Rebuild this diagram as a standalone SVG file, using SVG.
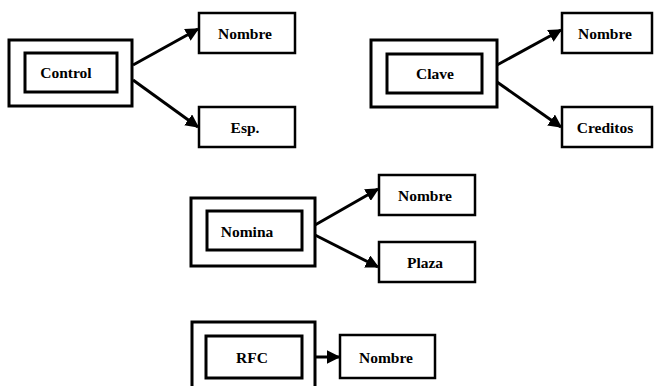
<svg xmlns="http://www.w3.org/2000/svg" width="655" height="386" viewBox="0 0 655 386">
<style>
.outer{fill:#fff;stroke:#000;stroke-width:3}
.inner{fill:#fff;stroke:#000;stroke-width:3}
.box{fill:#fff;stroke:#000;stroke-width:2.5}
.t{font-family:"Liberation Serif",serif;font-weight:bold;font-size:15.5px;text-anchor:middle;dominant-baseline:central;fill:#000}
.c{stroke:#000;stroke-width:3;fill:none;marker-end:url(#ah)}
</style>
<defs>
<marker id="ah" viewBox="0 0 10 10" refX="9" refY="5" markerWidth="4.5" markerHeight="4.5" orient="auto" markerUnits="strokeWidth">
<path d="M0,0 L10,5 L0,10 z" fill="#000"/>
</marker>
</defs>
<rect width="655" height="386" fill="#fff"/>
<g id="connectors">
<line class="c" x1="133" y1="65" x2="198" y2="29"/>
<line class="c" x1="133" y1="80" x2="198" y2="127"/>
<line class="c" x1="497" y1="65" x2="561" y2="30"/>
<line class="c" x1="497" y1="82" x2="561" y2="127"/>
<line class="c" x1="315" y1="225" x2="378" y2="189"/>
<line class="c" x1="315" y1="235" x2="378" y2="267"/>
<line class="c" x1="315" y1="357" x2="339" y2="357"/>
</g>
<g id="control">
<rect class="outer" x="9" y="40" width="123" height="66"/>
<rect class="inner" x="25" y="53" width="92" height="39"/>
<text class="t" x="66" y="72">Control</text>
</g>
<g id="control-nombre">
<rect class="box" x="199" y="13" width="96" height="40"/>
<text class="t" x="245" y="33">Nombre</text>
</g>
<g id="control-esp">
<rect class="box" x="199" y="107" width="96" height="40"/>
<text class="t" x="245" y="127">Esp.</text>
</g>
<g id="clave">
<rect class="outer" x="371" y="40" width="126" height="67"/>
<rect class="inner" x="387" y="54" width="95" height="39"/>
<text class="t" x="435" y="73">Clave</text>
</g>
<g id="clave-nombre">
<rect class="box" x="562" y="13" width="90" height="40"/>
<text class="t" x="605" y="33">Nombre</text>
</g>
<g id="clave-creditos">
<rect class="box" x="562" y="107" width="90" height="40"/>
<text class="t" x="605" y="127">Creditos</text>
</g>
<g id="nomina">
<rect class="outer" x="191" y="198" width="124" height="68"/>
<rect class="inner" x="207" y="211" width="95" height="39"/>
<text class="t" x="247" y="231">Nomina</text>
</g>
<g id="nomina-nombre">
<rect class="box" x="379" y="175" width="96" height="40"/>
<text class="t" x="425" y="195">Nombre</text>
</g>
<g id="nomina-plaza">
<rect class="box" x="379" y="242" width="96" height="40"/>
<text class="t" x="425" y="262">Plaza</text>
</g>
<g id="rfc">
<rect class="outer" x="192" y="322" width="123" height="70"/>
<rect class="inner" x="206" y="336" width="96" height="42"/>
<text class="t" x="252" y="357">RFC</text>
</g>
<g id="rfc-nombre">
<rect class="box" x="340" y="335" width="95" height="43"/>
<text class="t" x="386" y="357">Nombre</text>
</g>
</svg>
